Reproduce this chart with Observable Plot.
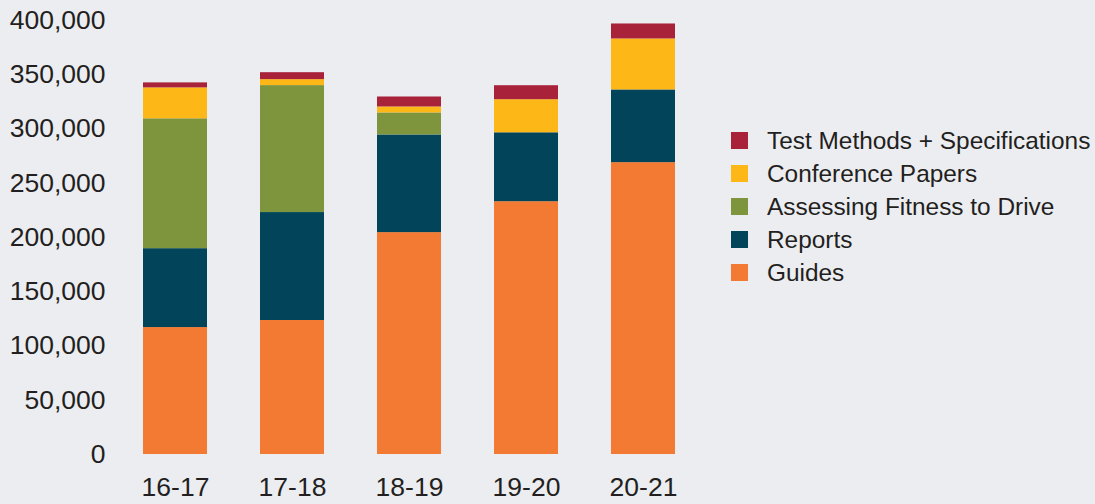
<!DOCTYPE html>
<html>
<head>
<meta charset="utf-8">
<script src="https://cdn.jsdelivr.net/npm/d3@7"></script>
<script src="https://cdn.jsdelivr.net/npm/@observablehq/plot@0.6"></script>
<style>
  html, body { margin: 0; padding: 0; background: #ecedf1; }
  #wrap { position: relative; width: 1095px; height: 504px; overflow: hidden;
          font-family: "Liberation Sans", Arial, Helvetica, sans-serif; color: #231f20; }
  #chart { position: absolute; left: 0; top: 0; }
  #legend { position: absolute; left: 731px; top: 124px; }
  .row { display: flex; align-items: center; height: 33px; font-size: 24.4px; white-space: nowrap; }
  .sw { width: 17px; height: 17px; margin-right: 19px; flex: none; }
</style>
</head>
<body>
<div id="wrap">
  <div id="chart"></div>
  <div id="legend"></div>
</div>
<script>
const years = ["16-17", "17-18", "18-19", "19-20", "20-21"];
const seriesNames = ["Guides", "Reports", "Assessing Fitness to Drive", "Conference Papers", "Test Methods + Specifications"];
const seriesColors = ["#f37a32", "#02455a", "#7e953d", "#fdb817", "#a8223a"];
const guides = [117000, 123500, 204500, 233000, 269000];
const reports = [72700, 99500, 90000, 63500, 67000];
const fitness = [119700, 117000, 20300, 0, 0];
const conference = [28500, 5500, 5500, 30500, 47000];
const testMethods = [4600, 6400, 9200, 12900, 13800];
const yTicks = [0, 50000, 100000, 150000, 200000, 250000, 300000, 350000, 400000];

const seriesValues = [guides, reports, fitness, conference, testMethods];
const table = [];
seriesNames.forEach((s, si) => {
  years.forEach((y, yi) => {
    table.push({year: y, series: s, value: seriesValues[si][yi]});
  });
});

const fmt = d3.format(",");
const plot = Plot.plot({
  width: 1095,
  height: 504,
  marginLeft: 110,
  marginRight: 388,
  marginTop: 20,
  marginBottom: 50,
  style: {
    background: "transparent",
    fontFamily: "'Liberation Sans', Arial, Helvetica, sans-serif",
    fontSize: "26.5px",
    color: "#231f20"
  },
  x: {domain: years, paddingInner: 0.4542, paddingOuter: 0.2729, label: null, tickSize: 0, tickPadding: 23},
  y: {domain: [0, 400000], ticks: yTicks, tickFormat: fmt, label: null, tickSize: 0, tickPadding: 5},
  color: {domain: seriesNames, range: seriesColors},
  marks: [
    Plot.barY(table, Plot.stackY({order: seriesNames}, {x: "year", y: "value", fill: "series"}))
  ]
});
document.getElementById("chart").appendChild(plot);

const legend = document.getElementById("legend");
for (let i = seriesNames.length - 1; i >= 0; i--) {
  const row = document.createElement("div");
  row.className = "row";
  const sw = document.createElement("div");
  sw.className = "sw";
  sw.style.background = seriesColors[i];
  const lab = document.createElement("span");
  lab.textContent = seriesNames[i];
  row.appendChild(sw);
  row.appendChild(lab);
  legend.appendChild(row);
}
</script>
</body>
</html>
